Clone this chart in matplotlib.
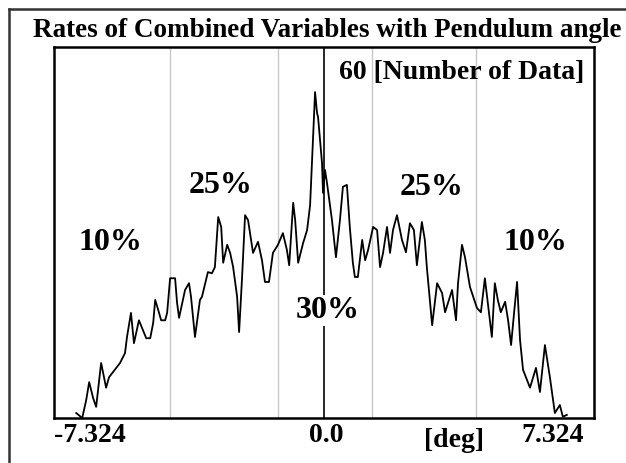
import matplotlib
matplotlib.use('Agg')
import matplotlib.pyplot as plt
from matplotlib.lines import Line2D

# pendulum angle [deg] and number of data
angle = [-7.47, -7.29, -7.17, -7.08, -6.96, -6.87, -6.72, -6.66, -6.57, -6.48,
         -6.15, -6.00, -5.94, -5.82, -5.73, -5.58, -5.46, -5.36, -5.24, -5.15,
         -5.09, -5.00, -4.91, -4.79, -4.73, -4.64, -4.49, -4.43, -4.37, -4.19,
         -4.07, -4.01, -3.89, -3.74, -3.68, -3.50, -3.38, -3.29, -3.19, -3.10,
         -3.04, -2.92, -2.83, -2.74, -2.62, -2.56, -2.47, -2.38, -2.29, -2.14,
         -1.99, -1.87, -1.78, -1.66, -1.54, -1.39, -1.24, -1.12, -1.05, -0.93,
         -0.87, -0.78, -0.63, -0.51, -0.42, -0.36, -0.27, -0.21, -0.18, -0.06,
         -0.03, 0.03, 0.09, 0.24, 0.36, 0.48, 0.57, 0.69, 0.78, 0.87,
         0.93, 1.02, 1.15, 1.24, 1.33, 1.48, 1.60, 1.69, 1.78, 1.90,
         1.99, 2.08, 2.20, 2.35, 2.47, 2.59, 2.71, 2.80, 2.95, 3.04,
         3.10, 3.26, 3.41, 3.56, 3.65, 3.86, 3.98, 4.04, 4.16, 4.25,
         4.40, 4.61, 4.73, 4.85, 4.91, 5.06, 5.15, 5.24, 5.33, 5.46,
         5.55, 5.64, 5.73, 5.82, 5.91, 6.00, 6.21, 6.39, 6.51, 6.66,
         6.81, 6.96, 7.11, 7.20, 7.32]
count = [0.8, 0.0, 2.9, 5.8, 3.2, 1.8, 8.9, 7.3, 4.9, 6.6,
         8.9, 10.5, 13.1, 17.0, 12.1, 15.8, 14.2, 12.9, 12.9, 15.4,
         19.1, 17.5, 15.8, 15.8, 17.0, 22.6, 22.6, 18.6, 16.2, 20.7,
         21.8, 19.6, 13.1, 19.1, 19.6, 23.6, 23.4, 24.4, 32.5, 30.9,
         25.1, 28.0, 26.7, 24.4, 19.6, 13.9, 22.8, 32.8, 32.0, 26.7,
         28.5, 25.5, 22.0, 22.0, 26.7, 28.0, 29.9, 27.2, 24.7, 34.8,
         32.0, 25.1, 28.3, 30.4, 34.4, 41.7, 52.7, 49.3, 48.7, 41.2,
         36.4, 40.1, 38.0, 32.0, 26.0, 32.0, 37.4, 37.7, 30.7, 25.1,
         22.8, 22.8, 28.8, 25.5, 27.2, 30.9, 30.4, 24.4, 26.7, 30.9,
         26.7, 30.4, 32.8, 28.8, 26.8, 31.5, 30.4, 24.7, 31.7, 28.8,
         24.4, 15.0, 21.8, 20.2, 17.1, 20.7, 15.8, 21.8, 28.0, 26.0,
         21.2, 17.8, 17.1, 22.6, 19.9, 13.1, 21.8, 19.1, 17.1, 18.8,
         15.8, 11.8, 17.0, 22.0, 12.6, 7.8, 4.9, 8.1, 4.2, 11.8,
         6.6, 0.8, 2.1, 0.2, 0.5]

grid_x = [-4.64, -1.39, 1.45, 4.58]
x_max = 7.324
n_max = 60
labels = ['10%', '25%', '30%', '25%', '10%']
label_x = [-6.45, -3.13, 0.12, 3.23, 6.36]
label_y = [28.4, 37.6, 17.4, 37.3, 28.4]

plt.rcParams['font.family'] = 'Liberation Serif'
plt.rcParams['font.weight'] = 'bold'

fig = plt.figure(figsize=(6.26, 4.63), dpi=100)
ax = fig.add_axes([0.0863, 0.0972, 0.8626, 0.8013])

for gx in grid_x:
    ax.axvline(gx, color='#c8c8c8', lw=1.0, zorder=1)
ax.axvline(0, color='black', lw=1.2, zorder=2)

ax.plot(angle, count, color='black', lw=1.3, zorder=3)

for lab, lx, ly in zip(labels, label_x, label_y):
    bbox = None
    if lab == '30%':
        bbox = dict(facecolor='white', edgecolor='none', pad=1)
    ax.text(lx, ly, lab, fontsize=23, fontweight='bold', ha='center',
            va='center', bbox=bbox, zorder=4)

ax.text(0.528, 0.932, f'{n_max} [Number of Data]', transform=ax.transAxes,
        fontsize=20, fontweight='bold', ha='left', va='center')

ax.set_xlim(-8.14, 8.14)
ax.set_ylim(0, n_max)
ax.set_xticks([])
ax.set_yticks([])
for sp in ax.spines.values():
    sp.set_linewidth(1.8)

# tick labels under the axis
ax.text(0.0, -0.048, f'-{x_max}', transform=ax.transAxes, fontsize=20,
        ha='left', va='center')
ax.text(0.505, -0.048, '0.0', transform=ax.transAxes, fontsize=20,
        ha='center', va='center')
ax.text(0.74, -0.062, '[deg]', transform=ax.transAxes, fontsize=20,
        ha='center', va='center')
ax.text(0.982, -0.048, f'{x_max}', transform=ax.transAxes, fontsize=20,
        ha='right', va='center')

fig.text(0.053, 0.935, 'Rates of Combined Variables with Pendulum angle',
         fontsize=19.5, fontweight='bold', ha='left', va='center')

# outer frame
fig.add_artist(Line2D([0.0144, 0.0144], [0, 0.9806], color='#333333', lw=1.8))
fig.add_artist(Line2D([0.0144, 1], [0.9806, 0.9806], color='#333333', lw=1.8))

fig.savefig('out.png', dpi=100)
